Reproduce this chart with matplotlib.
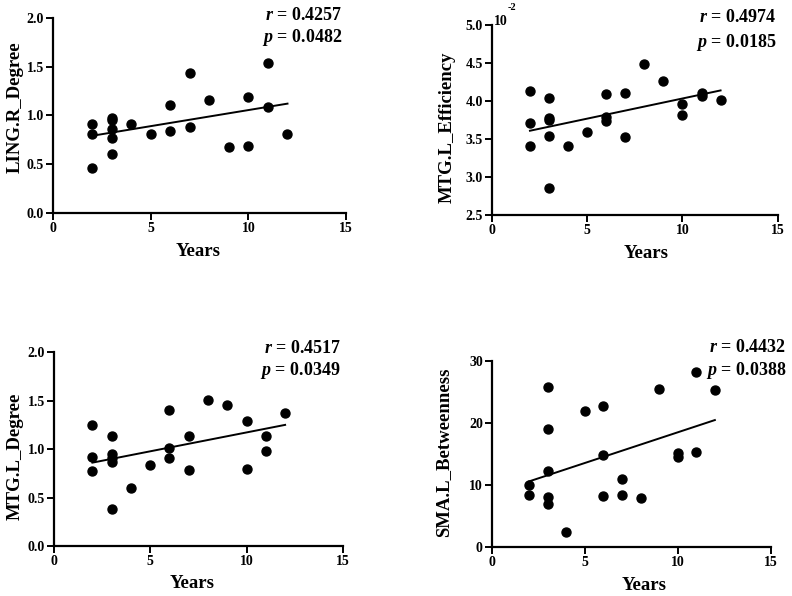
import numpy as np
import matplotlib
matplotlib.use("Agg")
import matplotlib.pyplot as plt

plt.rcParams['font.family'] = ['Liberation Serif', 'DejaVu Serif']
plt.rcParams['font.weight'] = 'bold'
plt.rcParams['mathtext.fontset'] = 'custom'
plt.rcParams['mathtext.it'] = 'Liberation Serif:italic:bold'
plt.rcParams['mathtext.rm'] = 'Liberation Serif:bold'
plt.rcParams['mathtext.bf'] = 'Liberation Serif:bold'

# --- data ---
ling_x = [2, 2, 2, 3, 3, 3, 3, 3, 4, 5, 6, 6, 7, 7, 8, 9, 10, 10, 11, 11, 12]
ling_y = [0.91, 0.81, 0.46, 0.97, 0.95, 0.86, 0.77, 0.60, 0.91, 0.81, 1.11, 0.84,
          1.43, 0.88, 1.16, 0.68, 1.19, 0.69, 1.54, 1.09, 0.81]
ling_fit = [0.79, 1.12]

eff_x = [2, 2, 2, 3, 3, 3, 3, 3, 4, 5, 6, 6, 6, 7, 7, 8, 9, 10, 10, 11, 11, 12]
eff_y = [4.13, 3.71, 3.41, 4.04, 3.78, 3.75, 3.54, 2.86, 3.41, 3.60, 4.09, 3.79,
         3.74, 4.10, 3.53, 4.49, 4.26, 3.96, 3.82, 4.11, 4.07, 4.01]
eff_fit = [3.61, 4.14]

mtg_x = [2, 2, 2, 3, 3, 3, 3, 3, 4, 5, 6, 6, 6, 7, 7, 8, 9, 10, 10, 11, 11, 12]
mtg_y = [1.25, 0.92, 0.77, 1.13, 0.95, 0.91, 0.87, 0.38, 0.60, 0.84, 1.40, 1.01,
         0.91, 1.14, 0.78, 1.51, 1.46, 1.29, 0.79, 1.14, 0.98, 1.37]
mtg_fit = [0.86, 1.25]

sma_x = [2, 2, 3, 3, 3, 3, 3, 4, 5, 6, 6, 6, 7, 7, 8, 9, 10, 10, 11, 11, 12]
sma_y = [10.0, 8.4, 25.8, 19.0, 12.3, 8.1, 7.0, 2.5, 22.0, 22.8, 14.8, 8.3,
         11.0, 8.4, 7.9, 25.5, 15.2, 14.5, 28.3, 15.4, 25.3]
sma_fit = [10.6, 20.5]

fit_x = [2, 12]

panels = [
    dict(x=ling_x, y=ling_y, fit=ling_fit, rect=[0.067, 0.643, 0.370, 0.327],
         ylabel='LING.R_Degree', ylim=(0, 2.0), yticks=[0.0, 0.5, 1.0, 1.5, 2.0],
         yfmt='%.1f', r='0.4257', p='0.0482',
         ylc=(-0.130, 0.54), xlc=(0.495, -0.20), st=(0.986, 1.01, 0.897)),
    dict(x=eff_x, y=eff_y, fit=eff_fit, rect=[0.621, 0.639, 0.361, 0.319],
         ylabel='MTG.L_Efficiency', ylim=(2.5, 5.0), yticks=[2.5, 3.0, 3.5, 4.0, 4.5, 5.0],
         yfmt='%.1f', r='0.4974', p='0.0185',
         ylc=(-0.157, 0.46), xlc=(0.54, -0.20), st=(0.997, 1.037, 0.91)),
    dict(x=mtg_x, y=mtg_y, fit=mtg_fit, rect=[0.068, 0.084, 0.365, 0.325],
         ylabel='MTG.L_Degree', ylim=(0, 2.0), yticks=[0.0, 0.5, 1.0, 1.5, 2.0],
         yfmt='%.1f', r='0.4517', p='0.0349',
         ylc=(-0.135, 0.465), xlc=(0.477, -0.196), st=(0.993, 1.02, 0.907)),
    dict(x=sma_x, y=sma_y, fit=sma_fit, rect=[0.621, 0.082, 0.352, 0.312],
         ylabel='SMA.L_Betweenness', ylim=(0, 30), yticks=[0, 10, 20, 30],
         yfmt='%d', r='0.4432', p='0.0388',
         ylc=(-0.172, 0.51), xlc=(0.548, -0.204), st=(1.057, 1.075, 0.952)),
]

fig = plt.figure(figsize=(7.92, 5.96), dpi=100)

for i, pn in enumerate(panels):
    ax = fig.add_axes(pn['rect'])
    ax.scatter(pn['x'], pn['y'], s=42, color='black', zorder=3, clip_on=False)
    ax.plot(fit_x, pn['fit'], color='black', lw=1.4)
    ax.set_xlim(0, 15)
    ax.set_ylim(*pn['ylim'])
    ax.set_xticks([0, 5, 10, 15])
    ax.set_yticks(pn['yticks'])
    ax.set_yticklabels([pn['yfmt'] % v for v in pn['yticks']])
    for s in ['top', 'right']:
        ax.spines[s].set_visible(False)
    for s in ['left', 'bottom']:
        ax.spines[s].set_linewidth(1.6)
    ax.tick_params(direction='out', length=5, width=1.4, labelsize=10, pad=1.5)
    for lab in ax.get_xticklabels() + ax.get_yticklabels():
        lab.set_fontweight('bold')
    ax.set_xlabel('Years', fontsize=13.5, fontweight='bold', va='center')
    ax.set_ylabel(pn['ylabel'], fontsize=13.5, fontweight='bold', va='center')
    ax.xaxis.set_label_coords(*pn['xlc'])
    ax.yaxis.set_label_coords(*pn['ylc'])
    sx, sr, sp = pn['st']
    ax.text(sx, sr, r'$r$ = ' + pn['r'], transform=ax.transAxes, ha='right',
            va='center', fontsize=13, fontweight='bold')
    ax.text(sx, sp, r'$p$ = ' + pn['p'], transform=ax.transAxes, ha='right',
            va='center', fontsize=13, fontweight='bold')
    if i == 1:
        ax.text(0.008, 1.016, '10', transform=ax.transAxes, ha='left', va='center',
                fontsize=10, fontweight='bold')
        ax.text(0.056, 1.09, '-2', transform=ax.transAxes, ha='left', va='center',
                fontsize=7.5, fontweight='bold')

fig.savefig('out.png', dpi=100, facecolor='white')
